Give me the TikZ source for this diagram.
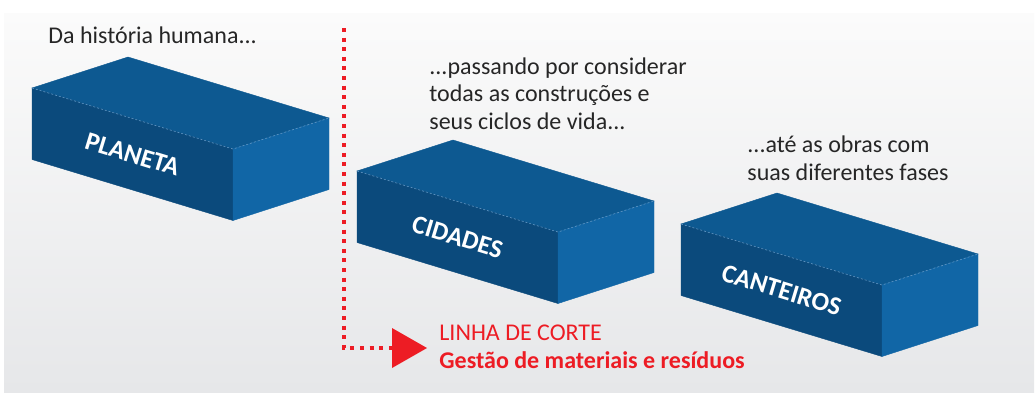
\documentclass[tikz,border=0pt]{standalone}
\usepackage{fontspec}
\setmainfont{Carlito}
\usetikzlibrary{arrows.meta,positioning,calc}

\definecolor{topblue}{RGB}{13,89,145}
\definecolor{frontblue}{RGB}{11,74,124}
\definecolor{sideblue}{RGB}{17,102,166}
\definecolor{ridgeblue}{RGB}{96,150,196}
\definecolor{cutred}{RGB}{237,28,36}
\definecolor{captiongray}{RGB}{38,38,38}
\definecolor{paperhi}{RGB}{251,251,251}
\definecolor{paperlo}{RGB}{230,231,233}

\begin{document}
\begin{tikzpicture}[
  x=0.5pt, y=-0.5pt,
  >={Triangle[length=17.5pt, width=20pt, line width=0pt]},
  caption/.style={anchor=base west, align=left, inner sep=0pt,
                  font=\fontsize{12}{13.75}\selectfont, text=captiongray},
  topface/.style={fill=topblue, draw=topblue, line width=0.2pt},
  frontface/.style={fill=frontblue, draw=frontblue, line width=0.2pt},
  sideface/.style={fill=sideblue, draw=sideblue, line width=0.2pt},
  ridge/.style={draw=ridgeblue, line width=0.3pt, dash pattern=on 1pt off 1pt},
  blocktext/.style={text=white, rotate=-16.9, inner sep=0pt,
                    font=\fontsize{13}{15}\selectfont\bfseries},
  cutline/.style={->, cutred, line width=2pt, line cap=butt,
                  dash pattern=on 2pt off 2.8pt},
  cuttext/.style={caption, text=cutred},
]
\useasboundingbox (0,0) rectangle (1035,403);
\fill[top color=paperhi, bottom color=paperlo] (4,13) rectangle (1034,392);

% ---- the three blocks, from the largest scale to the smallest -------------
\foreach \nm/\x/\y/\txt in {planeta/32/88/PLANETA, cidades/357/171/CIDADES,
                            canteiros/681/224/CANTEIROS} {
  \coordinate (\nm-fl) at (\x,\y);
  \coordinate (\nm-fr) at ($(\nm-fl)+(201,61)$);
  \coordinate (\nm-br) at ($(\nm-fl)+(297,30)$);
  \coordinate (\nm-bl) at ($(\nm-fl)+(96,-31)$);
  \path[topface]   (\nm-fl) -- (\nm-fr) -- (\nm-br) -- (\nm-bl) -- cycle;
  \path[frontface] (\nm-fl) -- (\nm-fr) -- ++(0,71.5)
                   -- ($(\nm-fl)+(0,71.5)$) -- cycle;
  \path[sideface]  (\nm-fr) -- (\nm-br) -- ++(0,71.5)
                   -- ($(\nm-fr)+(0,71.5)$) -- cycle;
  \draw[ridge] (\nm-fl) -- (\nm-fr) -- (\nm-br);
  \node[blocktext] (\nm) at ($(\nm-fl)!0.5!(\nm-fr)+(0,35.75)$) {\txt};
}

% ---- captions above each block ---------------------------------------------
% multi-line nodes sit on the baseline of their last line
\node[caption] (history) at (48,43) {Da história humana...};
\node[caption] (cities) at (429,129)
     {...passando por considerar\\todas as construções e\\seus ciclos de vida...};
\node[caption] (sites) at (747,180) {...até as obras com\\suas diferentes fases};

% ---- cut line ----------------------------------------------------------------
\coordinate (cuttop) at (344,28);
\coordinate (cuttip) at (427,348);
\draw[cutline] (cuttop) |- (cuttip);
\node[cuttext] (cut) at (439,368)
     {LINHA DE CORTE\\\textbf{Gestão de materiais e resíduos}};
\end{tikzpicture}
\end{document}
